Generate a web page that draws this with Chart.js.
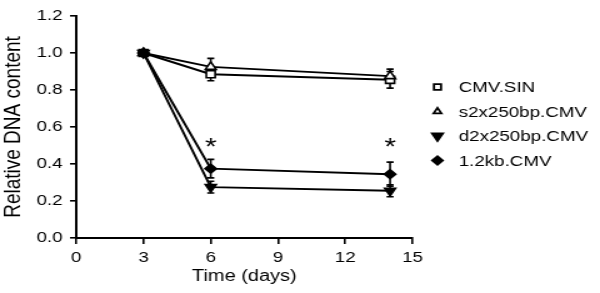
<!DOCTYPE html>
<html>
<head>
<meta charset="utf-8">
<script src="https://cdn.jsdelivr.net/npm/chart.js@4/dist/chart.umd.min.js"></script>
<style>
    html, body { margin: 0; padding: 0; background: #fff; overflow: hidden; }
    /* the source figure is stretched horizontally, so the canvas is too */
    #wrap { width: 480px; height: 293px; transform: scaleX(1.25); transform-origin: 0 0; }
</style>
</head>
<body>
<div id="wrap"><canvas id="chart" width="480" height="293"></canvas></div>
<script>
const days = [3, 6, 14];

const seriesNames = ['CMV.SIN', 's2x250bp.CMV', 'd2x250bp.CMV', '1.2kb.CMV'];

const cmvSin = [1.0, 0.885, 0.855];
const cmvSinErr = [0.01, 0.035, 0.045];
const s2x = [1.0, 0.925, 0.875];
const s2xErr = [0.01, 0.046, 0.038];
const d2x = [1.0, 0.275, 0.255];
const d2xErr = [0.01, 0.032, 0.032];
const kb12 = [1.0, 0.375, 0.345];
const kb12Err = [0.01, 0.05, 0.065];

// significance marks
const starDays = [6, 14];
const starVals = [0.515, 0.515];

const yTicks = [0, 0.2, 0.4, 0.6, 0.8, 1.0, 1.2];
const xTicks = [0, 3, 6, 9, 12, 15];

const FONT = '"Liberation Sans", Arimo, sans-serif';

function points(values, errs) {
    return values.map((v, i) => ({ x: days[i], y: v, err: errs[i] }));
}

function makeSet(label, values, errs, style, fill, rotation, radius, order) {
    return {
        label: label,
        data: points(values, errs),
        borderColor: '#000',
        backgroundColor: fill,
        borderWidth: 2,
        pointStyle: style,
        pointRotation: rotation,
        pointRadius: radius,
        pointBorderWidth: 1.6,
        pointBackgroundColor: fill,
        pointBorderColor: '#000',
        fill: false,
        tension: 0,
        order: order,
    };
}

const errorBars = {
    id: 'errorBars',
    beforeDatasetsDraw(chart) {
        const ctx = chart.ctx;
        const x = chart.scales.x, y = chart.scales.y;
        ctx.save();
        ctx.strokeStyle = '#000';
        ctx.lineWidth = 1.6;
        chart.data.datasets.forEach((ds) => {
            ds.data.forEach((p) => {
                const px = x.getPixelForValue(p.x);
                const top = y.getPixelForValue(p.y + p.err);
                const bot = y.getPixelForValue(p.y - p.err);
                ctx.beginPath();
                ctx.moveTo(px, top); ctx.lineTo(px, bot);
                ctx.moveTo(px - 2.8, top); ctx.lineTo(px + 2.8, top);
                ctx.moveTo(px - 2.8, bot); ctx.lineTo(px + 2.8, bot);
                ctx.stroke();
            });
        });
        ctx.restore();
    }
};

const stars = {
    id: 'stars',
    afterDatasetsDraw(chart) {
        const ctx = chart.ctx;
        const x = chart.scales.x, y = chart.scales.y;
        ctx.save();
        ctx.fillStyle = '#000';
        ctx.font = '24px ' + FONT;
        ctx.textAlign = 'center';
        ctx.textBaseline = 'alphabetic';
        const m = ctx.measureText('*');
        const shift = (m.actualBoundingBoxAscent - m.actualBoundingBoxDescent) / 2;
        starDays.forEach((d, i) => {
            ctx.fillText('*', x.getPixelForValue(d), y.getPixelForValue(starVals[i]) + shift);
        });
        ctx.restore();
    }
};

const sideLegend = {
    id: 'sideLegend',
    afterDraw(chart) {
        const ctx = chart.ctx;
        const left = chart.chartArea.right + 20;
        const top = 87;
        const step = 24.5;
        const sizes = [4, 3.6, 5, 4.2];
        ctx.save();
        chart.data.datasets.forEach((ds, i) => {
            const cy = top + i * step;
            ctx.fillStyle = ds.pointBackgroundColor;
            ctx.strokeStyle = '#000';
            ctx.lineWidth = 1.8;
            Chart.helpers.drawPoint(ctx, {
                pointStyle: ds.pointStyle,
                rotation: ds.pointRotation,
                radius: sizes[i],
                borderWidth: 1.8,
            }, left, cy);
            ctx.fillStyle = '#000';
            ctx.font = '15px ' + FONT;
            ctx.textAlign = 'left';
            ctx.textBaseline = 'middle';
            ctx.fillText(ds.label, left + 17, cy + 1);
        });
        ctx.restore();
    }
};

const config = {
    type: 'line',
    data: {
        datasets: [
            makeSet(seriesNames[0], cmvSin, cmvSinErr, 'rect', '#fff', 0, 5, 3),
            makeSet(seriesNames[1], s2x, s2xErr, 'triangle', '#fff', 0, 5, 2),
            makeSet(seriesNames[2], d2x, d2xErr, 'triangle', '#000', 180, 5, 1),
            makeSet(seriesNames[3], kb12, kb12Err, 'rectRot', '#000', 0, 4.5, 0),
        ],
    },
    options: {
        responsive: false,
        animation: false,
        devicePixelRatio: 1,
        layout: {
            padding: { top: 16, right: 150, left: 0, bottom: 0 },
        },
        plugins: {
            legend: { display: false },
            tooltip: { enabled: false },
        },
        scales: {
            x: {
                type: 'linear',
                min: 0,
                max: 15,
                afterFit: (axis) => { axis.height = 55; },
                afterBuildTicks: (axis) => { axis.ticks = xTicks.map(v => ({ value: v })); },
                border: { color: '#000', width: 2 },
                grid: {
                    drawOnChartArea: false,
                    color: '#000',
                    tickLength: 6,
                    lineWidth: 1.6,
                },
                ticks: {
                    color: '#000',
                    padding: 5,
                    maxRotation: 0,
                    font: { family: FONT, size: 15 },
                },
                title: {
                    display: true,
                    text: 'Time (days)',
                    color: '#000',
                    font: { family: FONT, size: 16 },
                    padding: { top: 0, bottom: 7 },
                },
            },
            y: {
                min: 0,
                max: 1.2,
                afterFit: (axis) => { axis.width = 61; },
                afterBuildTicks: (axis) => { axis.ticks = yTicks.map(v => ({ value: v })); },
                border: { color: '#000', width: 2 },
                grid: {
                    drawOnChartArea: false,
                    color: '#000',
                    tickLength: 5,
                    lineWidth: 1.6,
                },
                ticks: {
                    color: '#000',
                    padding: 6,
                    font: { family: FONT, size: 15 },
                    callback: (v) => v.toFixed(1),
                },
                title: {
                    display: true,
                    text: 'Relative DNA content',
                    color: '#000',
                    font: { family: FONT, size: 19, lineHeight: 1.1 },
                    padding: { top: 0, bottom: 0 },
                },
            },
        },
    },
    plugins: [errorBars, stars, sideLegend],
};

new Chart(document.getElementById('chart'), config);
</script>
</body>
</html>
